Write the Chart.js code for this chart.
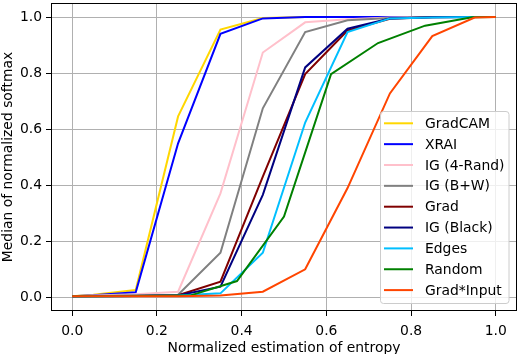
<!DOCTYPE html>
<html>
<head>
<meta charset="utf-8">
<script src="https://cdn.jsdelivr.net/npm/chart.js@4/dist/chart.umd.min.js"></script>
<style>
  html, body { margin: 0; padding: 0; background: #fff; }
  #wrap { width: 519px; height: 354px; position: relative; }
</style>
</head>
<body>
<div id="wrap"><canvas id="chart" width="519" height="354"></canvas></div>
<script>
// bin centres of the 10-bin methods and of the 9-bin "Random" run
const xBins10 = [0, 0.05, 0.15, 0.25, 0.35, 0.45, 0.55, 0.65, 0.75, 0.85, 0.95, 1.0];
const xBins9 = [0, 0.056, 0.167, 0.278, 0.389, 0.5, 0.611, 0.722, 0.833, 0.944, 1.0];

const gradCam   = [0.003, 0.008, 0.025, 0.645, 0.955, 0.996, 1.0, 1.0, 1.0, 1.0, 1.0, 1.0];
const xrai      = [0.003, 0.006, 0.017, 0.549, 0.940, 0.995, 1.0, 1.0, 1.0, 1.0, 1.0, 1.0];
const ig4Rand   = [0.003, 0.005, 0.010, 0.019, 0.370, 0.873, 0.981, 0.992, 0.998, 1.0, 1.0, 1.0];
const igBW      = [0.003, 0.004, 0.006, 0.008, 0.158, 0.674, 0.946, 0.988, 0.996, 1.0, 1.0, 1.0];
const grad      = [0.003, 0.004, 0.004, 0.006, 0.055, 0.430, 0.796, 0.952, 0.994, 0.999, 1.0, 1.0];
const igBlack   = [0.003, 0.003, 0.004, 0.005, 0.037, 0.365, 0.820, 0.958, 0.995, 0.999, 1.0, 1.0];
const edges     = [0.003, 0.003, 0.004, 0.005, 0.013, 0.158, 0.623, 0.946, 0.995, 0.998, 1.0, 1.0];
const random    = [0.003, 0.003, 0.004, 0.005, 0.057, 0.287, 0.796, 0.907, 0.969, 0.999, 1.0];
const gradInput = [0.003, 0.003, 0.003, 0.003, 0.005, 0.019, 0.099, 0.389, 0.727, 0.932, 0.998, 1.0];

const xTicks = [0, 0.2, 0.4, 0.6, 0.8, 1.0];
const yTicks = [0, 0.2, 0.4, 0.6, 0.8, 1.0];

const series = [
    { label: 'GradCAM', xs: xBins10, ys: gradCam, color: '#FFD700' },
    { label: 'XRAI', xs: xBins10, ys: xrai, color: '#0000FF' },
    { label: 'IG (4-Rand)', xs: xBins10, ys: ig4Rand, color: '#FFC0CB' },
    { label: 'IG (B+W)', xs: xBins10, ys: igBW, color: '#808080' },
    { label: 'Grad', xs: xBins10, ys: grad, color: '#800000' },
    { label: 'IG (Black)', xs: xBins10, ys: igBlack, color: '#000080' },
    { label: 'Edges', xs: xBins10, ys: edges, color: '#00BFFF' },
    { label: 'Random', xs: xBins9, ys: random, color: '#008000' },
    { label: 'Grad*Input', xs: xBins10, ys: gradInput, color: '#FF4500' },
];

const FONT = '"DejaVu Sans", sans-serif';
const FSIZE = 13.9;

// matplotlib-style frame and legend box inside the axes
const framePlugin = {
    id: 'frame',
    afterDraw(chart) {
        const { ctx, chartArea: a } = chart;
        ctx.save();
        ctx.strokeStyle = '#000';
        ctx.lineWidth = 1;
        ctx.strokeRect(Math.round(a.left) + 0.5, Math.round(a.top) + 0.5,
            Math.round(a.right - a.left) - 1, Math.round(a.bottom - a.top) - 1);

        const bx = 380.5, by = 111.5, bw = 128.5, bh = 192;
        ctx.beginPath();
        ctx.roundRect(bx, by, bw, bh, 3);
        ctx.fillStyle = 'rgba(255,255,255,0.8)';
        ctx.fill();
        ctx.strokeStyle = '#cccccc';
        ctx.stroke();

        ctx.font = FSIZE + 'px ' + FONT;
        ctx.textBaseline = 'middle';
        ctx.fillStyle = '#000';
        series.forEach((s, i) => {
            const y = 123.3 + i * 20.85;
            ctx.beginPath();
            ctx.moveTo(384, y);
            ctx.lineTo(413, y);
            ctx.strokeStyle = s.color;
            ctx.lineWidth = 2;
            ctx.stroke();
            ctx.fillText(s.label, 425, y + 1);
        });
        ctx.restore();
    },
};

new Chart(document.getElementById('chart'), {
    type: 'scatter',
    data: {
        datasets: series.map((s, i) => ({
            label: s.label,
            data: s.xs.map((x, j) => ({ x: x, y: s.ys[j] })),
            showLine: true,
            borderColor: s.color,
            backgroundColor: s.color,
            borderWidth: 2,
            pointRadius: 0,
            tension: 0,
            order: series.length - i,
        })),
    },
    options: {
        responsive: false,
        animation: false,
        devicePixelRatio: 1,
        layout: { padding: { top: 3, right: 2, left: 0, bottom: 0 } },
        plugins: { legend: { display: false }, tooltip: { enabled: false } },
        scales: {
            x: {
                type: 'linear',
                min: -0.05,
                max: 1.05,
                afterBuildTicks: (scale) => { scale.ticks = xTicks.map((v) => ({ value: v })); },
                afterFit: (scale) => {
                    scale.height = 43;
                    scale.paddingLeft = 0;
                    scale.paddingRight = 0;
                },
                ticks: {
                    callback: (v) => v.toFixed(1),
                    color: '#000',
                    font: { family: FONT, size: FSIZE },
                    padding: 7,
                    maxRotation: 0,
                },
                grid: { color: '#b0b0b0', lineWidth: 1, tickLength: 5, tickColor: '#000' },
                border: { display: false },
                title: {
                    display: true,
                    text: 'Normalized estimation of entropy',
                    color: '#000',
                    font: { family: FONT, size: FSIZE },
                    padding: { top: 3, bottom: -3 },
                },
            },
            y: {
                type: 'linear',
                min: -0.05,
                max: 1.05,
                afterBuildTicks: (scale) => { scale.ticks = yTicks.map((v) => ({ value: v })); },
                afterFit: (scale) => {
                    scale.width = 51;
                    scale.paddingTop = 0;
                    scale.paddingBottom = 0;
                },
                ticks: {
                    callback: (v) => v.toFixed(1),
                    color: '#000',
                    font: { family: FONT, size: FSIZE },
                    padding: 4,
                },
                grid: { color: '#b0b0b0', lineWidth: 1, tickLength: 5, tickColor: '#000' },
                border: { display: false },
                title: {
                    display: true,
                    text: 'Median of normalized softmax',
                    color: '#000',
                    font: { family: FONT, size: FSIZE },
                    padding: { top: 0, bottom: 0 },
                },
            },
        },
    },
    plugins: [framePlugin],
});
</script>
</body>
</html>
